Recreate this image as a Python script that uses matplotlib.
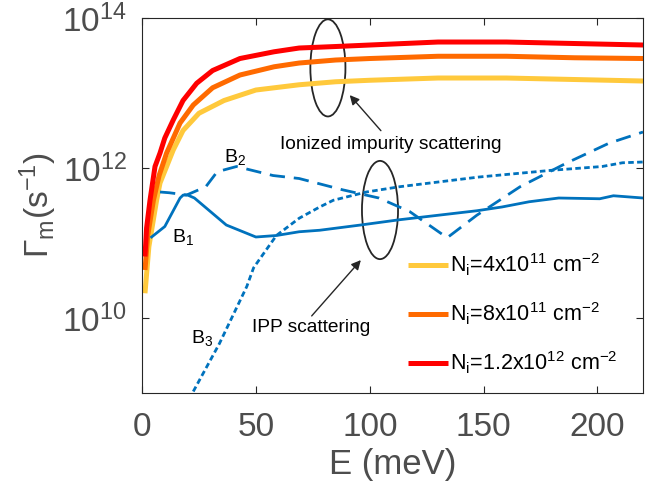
import numpy as np
import matplotlib
matplotlib.use('Agg')
import matplotlib.pyplot as plt
from matplotlib.patches import Ellipse
from matplotlib.ticker import FixedLocator

plt.rcParams['font.family'] = ['Liberation Sans', 'DejaVu Sans']
plt.rcParams['mathtext.default'] = 'regular'

# ionized impurity scattering, log10 of rate (s^-1)
E_red = [1.3, 2, 3.5, 5.7, 7.9, 10, 13.7, 18, 24, 31, 43, 58, 69, 85, 100, 130, 160, 190, 220]
red_log = [10.82, 11.2, 11.57, 12.02, 12.2, 12.4, 12.64, 12.9, 13.13, 13.3, 13.46, 13.55, 13.6, 13.62, 13.64, 13.68, 13.68, 13.66, 13.64]
E_orange = [1.3, 2.5, 5, 7.5, 10.8, 16.7, 22.5, 31, 43, 58, 69, 85, 100, 130, 160, 190, 220]
orange_log = [10.64, 11.1, 11.57, 11.9, 12.2, 12.6, 12.84, 13.07, 13.24, 13.35, 13.4, 13.44, 13.46, 13.49, 13.49, 13.47, 13.46]
E_yellow = [1.3, 3, 6.4, 7.9, 13.7, 18, 25, 36, 50, 69, 85, 100, 130, 160, 190, 220]
yellow_log = [10.33, 10.95, 11.57, 11.8, 12.24, 12.5, 12.73, 12.9, 13.04, 13.11, 13.15, 13.17, 13.2, 13.2, 13.18, 13.16]
imp_labels = ['N$_i$=4x10$^{11}$ cm$^{-2}$', 'N$_i$=8x10$^{11}$ cm$^{-2}$', 'N$_i$=1.2x10$^{12}$ cm$^{-2}$']

# IPP scattering branches
E_b1 = [4.2, 10, 16.7, 18.1, 20, 23, 37, 50, 59, 69, 78, 96, 113, 147, 158, 170, 183, 201, 207, 220]
b1_log = [11.08, 11.22, 11.6, 11.64, 11.64, 11.6, 11.24, 11.08, 11.1, 11.15, 11.17, 11.24, 11.31, 11.43, 11.48, 11.55, 11.6, 11.59, 11.63, 11.6]
E_b2 = [7.9, 12, 19.6, 28, 33, 41.5, 57.5, 69, 88, 104, 117.5, 134, 147, 166, 186, 205, 220]
b2_log = [11.68, 11.67, 11.64, 11.75, 11.95, 12.02, 11.9, 11.86, 11.71, 11.6, 11.42, 11.07, 11.37, 11.75, 12.06, 12.33, 12.48]
E_b3 = [22.5, 34, 46, 49, 52, 59, 69, 78, 84, 98.5, 113, 148, 180, 202, 211, 220]
b3_log = [9.02, 9.66, 10.42, 10.67, 10.8, 11.1, 11.33, 11.48, 11.57, 11.68, 11.75, 11.88, 11.97, 12.02, 12.07, 12.08]

blue = '#0072BD'
gray = '#4D4D4D'

fig = plt.figure(figsize=(6.64, 4.91), dpi=100)
ax = fig.add_axes([0.2139, 0.1996, 0.7545, 0.7637])

l1, = ax.plot(E_yellow, 10**np.array(yellow_log), color='#FFC93C', lw=3.6, solid_capstyle='butt')
l2, = ax.plot(E_orange, 10**np.array(orange_log), color='#FF6A00', lw=3.6, solid_capstyle='butt')
l3, = ax.plot(E_red, 10**np.array(red_log), color='#FF0000', lw=3.6, solid_capstyle='butt')

ax.plot(E_b1, 10**np.array(b1_log), color=blue, lw=2.0)
ax.plot(E_b2, 10**np.array(b2_log), color=blue, lw=2.0, linestyle=(0, (5.5, 3.2)))
ax.plot(E_b3, 10**np.array(b3_log), color=blue, lw=2.0, linestyle=(0, (2.0, 1.2)))

ax.set_yscale('log')
ax.set_xlim(0, 220)
ax.set_ylim(1e9, 1e14)
ax.yaxis.set_major_locator(FixedLocator([1e10, 1e12, 1e14]))
ax.yaxis.set_minor_locator(FixedLocator([]))
ax.set_xticks([0, 50, 100, 150, 200])
ax.tick_params(direction='in', length=5, width=0.8, top=True, right=True,
               labelsize=24, labelcolor=gray, color='#262626')
ax.tick_params(axis='x', pad=14)
ax.tick_params(axis='y', pad=11)
for s in ax.spines.values():
    s.set_color('#262626')
    s.set_linewidth(0.8)

ax.set_xlabel('E (meV)', fontsize=25, color=gray, labelpad=3)
ax.set_ylabel(r'$\Gamma_m$(s$^{-1}$)', fontsize=24, color=gray, labelpad=2)

# branch labels
ax.text(13, 10**11.08, 'B$_1$', fontsize=14, va='center')
ax.text(36, 10**12.15, 'B$_2$', fontsize=14, va='center')
ax.text(21.5, 10**9.73, 'B$_3$', fontsize=14, va='center')

# annotations
ax.add_patch(Ellipse((0.371, 0.867), 0.07, 0.259, transform=ax.transAxes,
                     fill=False, ec='#262626', lw=1.3))
ax.add_patch(Ellipse((0.475, 0.488), 0.072, 0.262, transform=ax.transAxes,
                     fill=False, ec='#262626', lw=1.3))
ax.text(60.5, 10**12.31, 'Ionized impurity scattering', fontsize=13.8, va='center')
ax.annotate('', xy=(90.4, 10**13.0), xytext=(105.7, 10**12.47),
            arrowprops=dict(arrowstyle='-|>', color='#262626', lw=1, mutation_scale=14))
ax.text(48.2, 10**9.87, 'IPP scattering', fontsize=13.8, va='center')
ax.annotate('', xy=(96.9, 10**10.8), xytext=(73.7, 10**10.0),
            arrowprops=dict(arrowstyle='-|>', color='#262626', lw=1, mutation_scale=14))

ax.legend([l1, l2, l3], imp_labels, loc='upper left', bbox_to_anchor=(0.531, 0.378),
          frameon=False, fontsize=15.5, handlelength=1.86, handletextpad=0.1,
          labelspacing=1.05, borderaxespad=0, borderpad=0)

fig.savefig('out.png', dpi=100)
